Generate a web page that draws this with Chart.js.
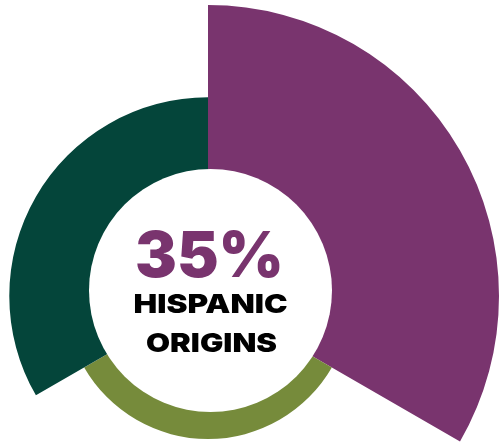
<!DOCTYPE html>
<html>
<head>
<meta charset="utf-8">
<script src="https://cdn.jsdelivr.net/npm/chart.js@4.4.1/dist/chart.umd.min.js"></script>
<style>
  html, body { margin: 0; padding: 0; background: #fff; overflow: hidden; width: 499px; height: 444px; }
  #wrap { position: absolute; left: -83px; top: 5px; width: 582px; height: 582px; }
</style>
</head>
<body>
<div id="wrap"><canvas id="chart" width="582" height="582"></canvas></div>
<script>
// segments clockwise from the top
const labels = ["Hispanic origins", "Group B", "Group C"];
const values = [35, 17.2, 23.9];
const colors = ["#79346e", "#768b3b", "#04453a"];
const centerValue = "35%";
const centerLines = ["HISPANIC", "ORIGINS"];

// draw one line of text centred at x, stretched to a given width
function wideText(ctx, text, x, y, width) {
  const w = ctx.measureText(text).width;
  ctx.save();
  ctx.translate(x, y);
  ctx.scale(width / w, 1);
  ctx.fillText(text, 0, 0);
  ctx.restore();
}

const centerLabel = {
  id: "centerLabel",
  afterDatasetsDraw(chart) {
    const ctx = chart.ctx;
    const scale = chart.scales.r;
    const cx = scale.xCenter + 2.5, cy = scale.yCenter - 5.5;
    const hole = scale.drawingArea * 0.4175;

    ctx.save();
    ctx.beginPath();
    ctx.arc(cx, cy, hole, 0, Math.PI * 2);
    ctx.fillStyle = "#fff";
    ctx.fill();

    ctx.textAlign = "center";
    ctx.textBaseline = "alphabetic";
    ctx.fillStyle = "#79346e";
    ctx.font = "900 63px Inter";
    wideText(ctx, centerValue, cx - 1, cy - 13.5, 149);

    ctx.fillStyle = "#000";
    ctx.font = "900 26px Inter";
    wideText(ctx, centerLines[0], cx, cy + 22.5, 154);
    wideText(ctx, centerLines[1], cx + 1, cy + 61, 131);
    ctx.restore();
  }
};

new Chart(document.getElementById("chart"), {
  type: "polarArea",
  data: {
    labels: labels,
    datasets: [{
      data: values,
      backgroundColor: colors,
      borderWidth: 0
    }]
  },
  options: {
    responsive: false,
    animation: false,
    layout: { padding: 0 },
    plugins: {
      legend: { display: false },
      tooltip: { enabled: false }
    },
    scales: {
      r: { display: false, min: 0, max: 35 }
    }
  },
  plugins: [centerLabel]
});
</script>
</body>
</html>
